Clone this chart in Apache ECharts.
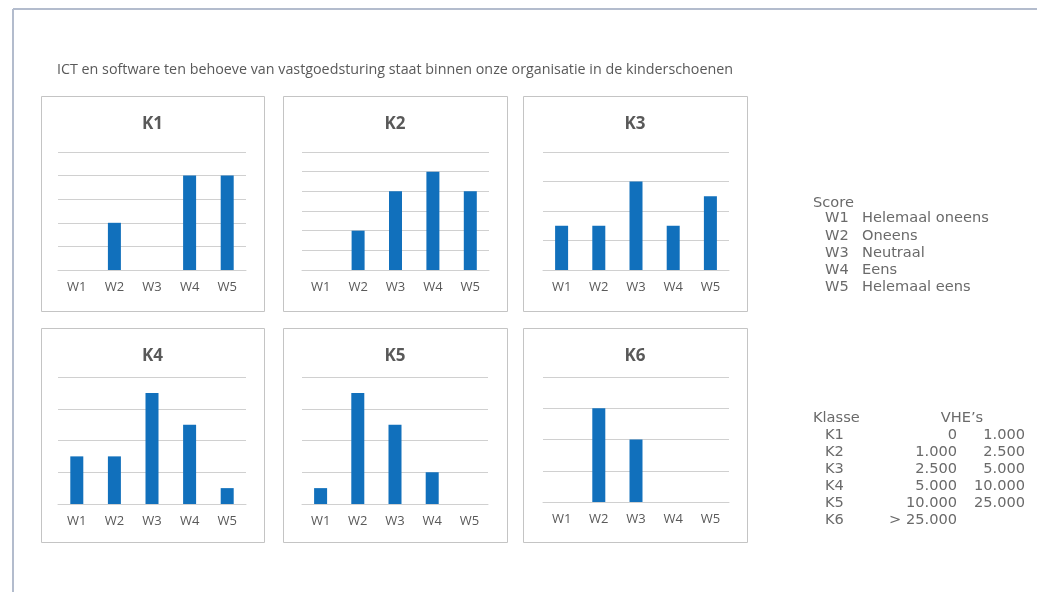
<!DOCTYPE html>
<html>
<head>
<meta charset="utf-8">
<script src="https://cdn.jsdelivr.net/npm/echarts@6/dist/echarts.min.js"></script>
<style>
html,body{margin:0;padding:0;background:#fff;}
#c{width:1037px;height:592px;}
</style>
</head>
<body>
<div id="c"></div>
<script>
// ---- data ----
var chartTitle = 'ICT en software ten behoeve van vastgoedsturing staat binnen onze organisatie in de kinderschoenen';
var categories = ['W1', 'W2', 'W3', 'W4', 'W5'];
var panelNames = ['K1', 'K2', 'K3', 'K4', 'K5', 'K6'];
var k1 = [0, 2, 0, 4, 4];
var k2 = [0, 2, 4, 5, 4];
var k3 = [3, 3, 6, 3, 5];
var k4 = [3, 3, 7, 5, 1];
var k5 = [1, 7, 5, 2, 0];
var k6 = [0, 3, 2, 0, 0];
var axisMax = [5, 6, 8, 8, 8, 4];
var axisInterval = [1, 1, 2, 2, 2, 1];
var scoreCodes = ['W1', 'W2', 'W3', 'W4', 'W5'];
var scoreLabels = ['Helemaal oneens', 'Oneens', 'Neutraal', 'Eens', 'Helemaal eens'];
var klasseCodes = ['K1', 'K2', 'K3', 'K4', 'K5', 'K6'];
var vheFrom = ['0', '1.000', '2.500', '5.000', '10.000', '> 25.000'];
var vheTo = ['1.000', '2.500', '5.000', '10.000', '25.000', ''];

var seriesData = [k1, k2, k3, k4, k5, k6];

// ---- layout ----
var panels = [
  {x: 41, y: 96, w: 223, h: 215, gl: 58, gr: 246, gt: 152, gb: 270},
  {x: 283, y: 96, w: 224, h: 215, gl: 302, gr: 489, gt: 152, gb: 270},
  {x: 523, y: 96, w: 224, h: 215, gl: 543, gr: 729, gt: 152, gb: 270},
  {x: 41, y: 328, w: 223, h: 214, gl: 58, gr: 246, gt: 377, gb: 504},
  {x: 283, y: 328, w: 224, h: 214, gl: 302, gr: 488, gt: 377, gb: 504},
  {x: 523, y: 328, w: 224, h: 214, gl: 543, gr: 729, gt: 377, gb: 502}
];

var textColor = '#595959';
var font = '"Open Sans", "Noto Sans", sans-serif';
var lfont = '"DejaVu Sans", "Open Sans", sans-serif';
var lcol = '#6a6a6a';

var grids = [], xAxes = [], yAxes = [], series = [], graphics = [];

// outer frame
graphics.push({type: 'line', shape: {x1: 13, y1: 9, x2: 1037, y2: 9}, style: {stroke: '#b3bccd', lineWidth: 2}});
graphics.push({type: 'line', shape: {x1: 13, y1: 9, x2: 13, y2: 592}, style: {stroke: '#b3bccd', lineWidth: 2}});

// title
graphics.push({type: 'text', x: 57, y: 70, style: {text: chartTitle, fill: textColor, font: '14.3px ' + font, textVerticalAlign: 'middle'}});

panels.forEach(function (p, i) {
  graphics.push({type: 'rect', shape: {x: p.x + 0.5, y: p.y + 0.5, width: p.w, height: p.h},
    style: {fill: 'none', stroke: '#c4c4c4', lineWidth: 1}});
  graphics.push({type: 'text', x: p.x + p.w / 2, y: p.y + 28,
    style: {text: panelNames[i], fill: textColor, font: 'bold 17px ' + font, textAlign: 'center', textVerticalAlign: 'middle'}});
  grids.push({left: p.gl, top: p.gt, width: p.gr - p.gl, height: p.gb - p.gt, containLabel: false});
  xAxes.push({type: 'category', gridIndex: i, data: categories,
    axisLine: {show: true, lineStyle: {color: '#d0d0d0'}}, axisTick: {show: false},
    axisLabel: {color: textColor, fontSize: 13, fontFamily: font, margin: 11}});
  yAxes.push({type: 'value', gridIndex: i, min: 0, max: axisMax[i], interval: axisInterval[i],
    axisLabel: {show: false}, axisLine: {show: false}, axisTick: {show: false},
    splitLine: {lineStyle: {color: '#d0d0d0', width: 1}}});
  series.push({type: 'bar', xAxisIndex: i, yAxisIndex: i, data: seriesData[i], barWidth: 13,
    itemStyle: {color: '#1170bc'}, silent: true});
});

// Score legend
var lg = '14.6px ' + lfont;
graphics.push({type: 'text', x: 813, y: 203, style: {text: 'Score', fill: lcol, font: lg, textVerticalAlign: 'middle'}});
var sy = [218.5, 236, 253, 270, 287.5];
scoreCodes.forEach(function (c, i) {
  graphics.push({type: 'text', x: 825, y: sy[i], style: {text: c, fill: lcol, font: lg, textVerticalAlign: 'middle'}});
  graphics.push({type: 'text', x: 862, y: sy[i], style: {text: scoreLabels[i], fill: lcol, font: lg, textVerticalAlign: 'middle'}});
});

// Klasse legend
graphics.push({type: 'text', x: 813, y: 418, style: {text: 'Klasse', fill: lcol, font: lg, textVerticalAlign: 'middle'}});
graphics.push({type: 'text', x: 962, y: 418, style: {text: 'VHE\u2019s', fill: lcol, font: lg, textAlign: 'center', textVerticalAlign: 'middle'}});
var ky = [435, 452, 469, 486.5, 503.5, 520.5];
klasseCodes.forEach(function (c, i) {
  graphics.push({type: 'text', x: 825, y: ky[i], style: {text: c, fill: lcol, font: lg, textVerticalAlign: 'middle'}});
  graphics.push({type: 'text', x: 957, y: ky[i], style: {text: vheFrom[i], fill: lcol, font: lg, textAlign: 'right', textVerticalAlign: 'middle'}});
  if (vheTo[i]) {
    graphics.push({type: 'text', x: 1025, y: ky[i], style: {text: vheTo[i], fill: lcol, font: lg, textAlign: 'right', textVerticalAlign: 'middle'}});
  }
});

var chart = echarts.init(document.getElementById('c'), null, {renderer: 'canvas'});
chart.setOption({
  animation: false,
  backgroundColor: '#fff',
  grid: grids,
  xAxis: xAxes,
  yAxis: yAxes,
  series: series,
  graphic: graphics
});
</script>
</body>
</html>
